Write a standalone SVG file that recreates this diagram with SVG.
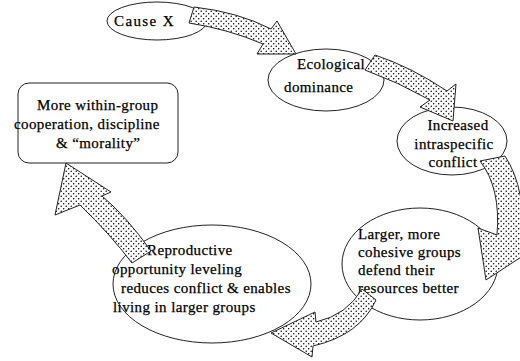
<svg xmlns="http://www.w3.org/2000/svg" width="520" height="361" viewBox="0 0 520 361">
  <defs>
    <!-- stippled fill used by every block arrow -->
    <pattern id="dots" width="5" height="5" patternUnits="userSpaceOnUse">
      <rect width="5" height="5" fill="#fff"/>
      <circle cx="1.2" cy="1.2" r="0.75" fill="#000"/>
      <circle cx="3.7" cy="3.7" r="0.75" fill="#000"/>
    </pattern>
    <style>
      .shape { fill: #fff; stroke: #222; stroke-width: 1; }
      .arrow { fill: url(#dots); stroke: #222; stroke-width: 1; stroke-linejoin: miter; }
      .lbl { font-family: "Liberation Serif", "Times New Roman", serif; font-size: 15px; fill: #000; stroke: #000; stroke-width: 0.25px; letter-spacing: 0.4px; }
    </style>
  </defs>

  <rect width="520" height="361" fill="#fff"/>

  <!-- nodes -->
  <g id="cause-x">
    <ellipse class="shape" cx="157" cy="21" rx="50" ry="19"/>
    <text class="lbl" x="114" y="26" style="letter-spacing:1.4px">Cause X</text>
  </g>

  <g id="ecological-dominance">
    <ellipse class="shape" cx="326" cy="80" rx="58" ry="31"/>
    <text class="lbl" x="297" y="69">Ecological</text>
    <text class="lbl" x="284" y="92">dominance</text>
  </g>

  <g id="intraspecific-conflict">
    <ellipse class="shape" cx="452" cy="141" rx="55" ry="34"/>
    <text class="lbl" x="458" y="130" text-anchor="middle">Increased</text>
    <text class="lbl" x="454" y="149" text-anchor="middle">intraspecific</text>
    <text class="lbl" x="453" y="167" text-anchor="middle">conflict</text>
  </g>

  <g id="cohesive-groups">
    <ellipse class="shape" cx="420" cy="264" rx="78" ry="56"/>
    <text class="lbl" x="358" y="239">Larger, more</text>
    <text class="lbl" x="358" y="257">cohesive groups</text>
    <text class="lbl" x="358" y="275">defend their</text>
    <text class="lbl" x="358" y="293">resources better</text>
  </g>

  <g id="reproductive-leveling">
    <ellipse class="shape" cx="212" cy="284" rx="99" ry="59"/>
    <text class="lbl" x="147" y="255">Reproductive</text>
    <text class="lbl" x="112" y="274">opportunity leveling</text>
    <text class="lbl" x="121" y="293">reduces conflict &amp; enables</text>
    <text class="lbl" x="113" y="312">living in larger groups</text>
  </g>

  <g id="within-group-cooperation">
    <rect class="shape" x="18" y="83" width="160" height="80" rx="11"/>
    <text class="lbl" x="37" y="110">More within-group</text>
    <text class="lbl" x="14" y="129">cooperation, discipline</text>
    <text class="lbl" x="56" y="148">&amp;  “morality”</text>
  </g>

  <!-- connectors: curved stippled block arrows -->
  <g id="connectors">
    <path class="arrow" d="M194,7 Q238,12 271,29 L277,21 L296,54 L257,54 L263,44 Q228,29 189,23 Z"/>
    <path class="arrow" d="M375,55 Q411,67 447,91 L456,84 L453,121 L420,107 L430,100 Q398,82 365,70 Z"/>
    <path class="arrow" d="M480,161 Q501,188 497,235 L478,228 L486,280 L532,250 L522,246 Q527,190 505,156 Z"/>
    <path class="arrow" d="M362,289 Q347,315 316,322 L315,312 L271,333 L312,357 L313,346 Q360,335 376,300 Z"/>
    <path class="arrow" d="M151,251 Q126,216 102,196 L111,192 L66,163 L55,215 L80,205 Q110,234 132,263 Z"/>
  </g>
</svg>
